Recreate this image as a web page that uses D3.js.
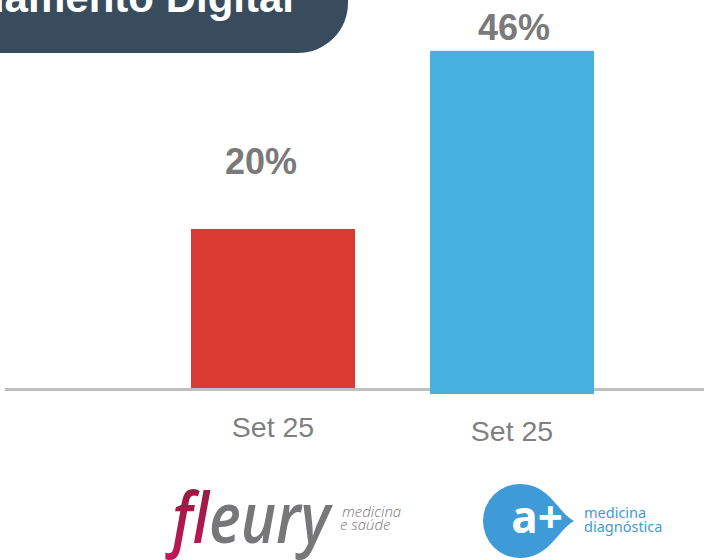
<!DOCTYPE html>
<html>
<head>
<meta charset="utf-8">
<script src="https://cdn.jsdelivr.net/npm/d3@7"></script>
<style>
  body { margin: 0; background: #fff; }
  svg { display: block; font-family: "Liberation Sans", Arial, sans-serif; }
</style>
</head>
<body>
<div id="chart"></div>
<script>
// data
var categories = ["Set 25", "Set 25"]
var values = [20, 46]
var valueLabels = ["20%", "46%"]
var barColors = ["#DB3A33", "#46B0E1"]
var title = "Agendamento Digital"

// each bar sits in its own little chart (pasted side by side on the slide)
var panels = [
    { baseline: 388, pxPerUnit: 7.95, labelDx: -12, labelGap: 55, catY: 437 },
    { baseline: 394, pxPerUnit: 7.46, labelDx: 2, labelGap: 11, catY: 441 }
]

var svgWidth = 704, svgHeight = 560

var svg = d3.select("#chart").append("svg")
    .attr("width", svgWidth)
    .attr("height", svgHeight)

// header tab with rounded bottom right corner
var hw = 348, hh = 53, r = 50
svg.append("path")
    .attr("d", "M0,0 H" + hw + " V" + (hh - r) +
        " A" + r + "," + r + " 0 0 1 " + (hw - r) + "," + hh + " H0 Z")
    .attr("fill", "#394C5D")

svg.append("text")
    .attr("x", 294)
    .attr("y", 12)
    .attr("text-anchor", "end")
    .style("font-size", "42px")
    .style("font-weight", "bold")
    .style("fill", "#fff")
    .text(title)

var x = d3.scaleBand()
    .domain(d3.range(values.length))
    .range([191, 594])
    .paddingInner(0.314)

// one y scale per panel
var yScales = panels.map(function(p) {
    return d3.scaleLinear()
        .domain([0, 50])
        .range([p.baseline, p.baseline - 50 * p.pxPerUnit])
})

// baseline
svg.append("line")
    .attr("x1", 5).attr("x2", svgWidth)
    .attr("y1", 389.5).attr("y2", 389.5)
    .attr("stroke", "#C0C0C0")
    .attr("stroke-width", 3)

svg.selectAll("rect.bar").data(values)
    .enter().append("rect").attr("class", "bar")
    .attr("x", function(d, i) { return x(i) })
    .attr("width", x.bandwidth())
    .attr("y", function(d, i) { return yScales[i](d) })
    .attr("height", function(d, i) { return yScales[i](0) - yScales[i](d) })
    .attr("fill", function(d, i) { return barColors[i] })

svg.selectAll("text.value").data(values)
    .enter().append("text").attr("class", "value")
    .attr("x", function(d, i) { return x(i) + x.bandwidth() / 2 + panels[i].labelDx })
    .attr("y", function(d, i) { return yScales[i](d) - panels[i].labelGap })
    .attr("text-anchor", "middle")
    .style("font-size", "36px")
    .style("font-weight", "bold")
    .style("fill", "#7A7A7A")
    .text(function(d, i) { return valueLabels[i] })

svg.selectAll("text.cat").data(categories)
    .enter().append("text").attr("class", "cat")
    .attr("x", function(d, i) { return x(i) + x.bandwidth() / 2 })
    .attr("y", function(d, i) { return panels[i].catY })
    .attr("text-anchor", "middle")
    .style("font-size", "28.5px")
    .style("fill", "#808080")
    .text(function(d) { return d })

// logos
var grad = svg.append("defs").append("linearGradient")
    .attr("id", "fgrad").attr("x1", 0).attr("y1", 0).attr("x2", 0).attr("y2", 1)
grad.append("stop").attr("offset", "0%").attr("stop-color", "#8E1B3A")
grad.append("stop").attr("offset", "100%").attr("stop-color", "#C2185B")

var fleury = svg.append("g")
fleury.append("text")
    .attr("x", 172).attr("y", 543)
    .attr("textLength", 158).attr("lengthAdjust", "spacingAndGlyphs")
    .style("font-family", "'Open Sans', sans-serif")
    .style("font-style", "italic")
    .style("font-weight", "600")
    .style("font-size", "70px")
    .style("fill", "#77777A")
    .call(function(t) {
        t.append("tspan").style("fill", "url(#fgrad)").text("f")
        t.append("tspan").text("leury")
    })
fleury.append("text")
    .attr("x", 342).attr("y", 517)
    .style("font-family", "'Open Sans', sans-serif")
    .style("font-style", "italic")
    .style("font-weight", "300")
    .style("font-size", "15px")
    .style("fill", "#77777A")
    .text("medicina")
fleury.append("text")
    .attr("x", 340).attr("y", 530)
    .style("font-family", "'Open Sans', sans-serif")
    .style("font-style", "italic")
    .style("font-weight", "300")
    .style("font-size", "15px")
    .style("fill", "#77777A")
    .text("e saúde")

var aplus = svg.append("g")
var cx = 520, cy = 521, rr = 37
aplus.append("path")
    .attr("d", "M" + (cx + 54) + "," + cy +
        " C" + (cx + 38) + "," + (cy - 8) + " " + (cx + 30) + "," + (cy - rr) + " " + cx + "," + (cy - rr) +
        " A" + rr + "," + rr + " 0 0 0 " + cx + "," + (cy + rr) +
        " C" + (cx + 30) + "," + (cy + rr) + " " + (cx + 38) + "," + (cy + 8) + " " + (cx + 54) + "," + cy + " Z")
    .attr("fill", "#3F9BD7")
aplus.append("text")
    .attr("x", 537).attr("y", 533)
    .attr("text-anchor", "middle")
    .style("font-family", "'Open Sans', sans-serif")
    .style("font-weight", "bold")
    .style("font-size", "44px")
    .style("fill", "#fff")
    .text("a+")
aplus.append("text")
    .attr("x", 584).attr("y", 518)
    .style("font-family", "'Noto Sans', sans-serif")
    .style("font-size", "14.5px")
    .style("fill", "#3F9BD7")
    .text("medicina")
aplus.append("text")
    .attr("x", 584).attr("y", 532)
    .style("font-family", "'Noto Sans', sans-serif")
    .style("font-size", "14.5px")
    .style("fill", "#3F9BD7")
    .text("diagnóstica")
</script>
</body>
</html>
